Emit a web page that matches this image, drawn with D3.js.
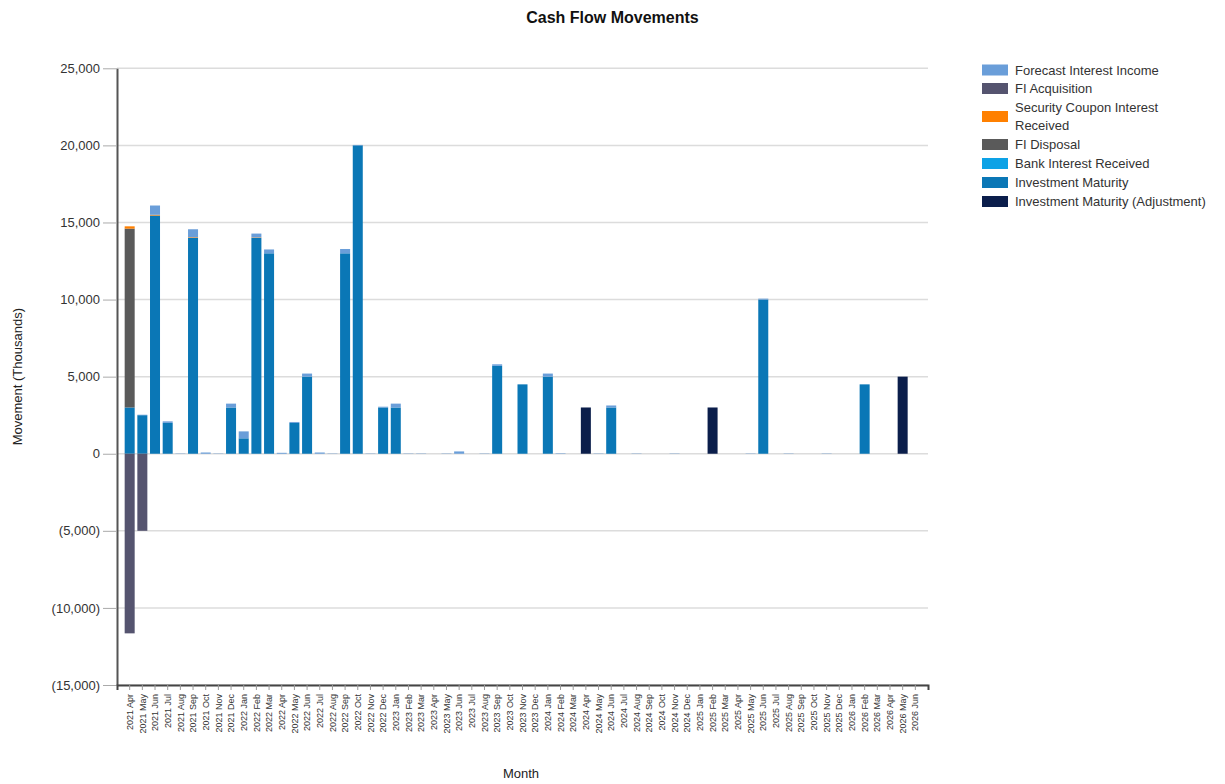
<!DOCTYPE html>
<html>
<head>
<meta charset="utf-8">
<script src="https://cdn.jsdelivr.net/npm/d3@7"></script>
<style>
  body { margin: 0; background: #fff; }
  svg { display: block; font-family: "Liberation Sans", Arial, sans-serif; }
</style>
</head>
<body>
<svg id="chart" width="1225" height="784"></svg>
<script>
const months = [
  "2021 Apr","2021 May","2021 Jun","2021 Jul","2021 Aug","2021 Sep","2021 Oct","2021 Nov","2021 Dec",
  "2022 Jan","2022 Feb","2022 Mar","2022 Apr","2022 May","2022 Jun","2022 Jul","2022 Aug","2022 Sep","2022 Oct","2022 Nov","2022 Dec",
  "2023 Jan","2023 Feb","2023 Mar","2023 Apr","2023 May","2023 Jun","2023 Jul","2023 Aug","2023 Sep","2023 Oct","2023 Nov","2023 Dec",
  "2024 Jan","2024 Feb","2024 Mar","2024 Apr","2024 May","2024 Jun","2024 Jul","2024 Aug","2024 Sep","2024 Oct","2024 Nov","2024 Dec",
  "2025 Jan","2025 Feb","2025 Mar","2025 Apr","2025 May","2025 Jun","2025 Jul","2025 Aug","2025 Sep","2025 Oct","2025 Nov","2025 Dec",
  "2026 Jan","2026 Feb","2026 Mar","2026 Apr","2026 May","2026 Jun"
];

// values in thousands, one per month
const forecastInterestIncome = [
  0,30,600,100,20,520,80,20,250,
  450,250,250,60,60,200,80,20,280,30,20,50,
  250,20,20,0,20,150,0,20,100,0,0,0,
  200,30,0,0,20,130,0,20,0,0,20,0,
  0,0,0,0,20,60,0,20,0,0,20,0,
  0,0,0,0,0,0
];
const fiAcquisition = [
  -11650,-5000,0,0,0,0,0,0,0,
  0,0,0,0,0,0,0,0,0,0,0,0,
  0,0,0,0,0,0,0,0,0,0,0,0,
  0,0,0,0,0,0,0,0,0,0,0,0,
  0,0,0,0,0,0,0,0,0,0,0,0,
  0,0,0,0,0,0
];
const securityCouponInterest = [
  150,0,50,0,0,40,0,0,0,
  0,30,0,0,0,0,0,0,0,0,0,0,
  0,0,0,0,0,0,0,0,0,0,0,0,
  0,0,0,0,0,0,0,0,0,0,0,0,
  0,0,0,0,0,0,0,0,0,0,0,0,
  0,0,0,0,0,0
];
const fiDisposal = [
  11600,0,0,0,0,0,0,0,0,
  0,0,0,0,0,0,0,0,0,0,0,0,
  0,0,0,0,0,0,0,0,0,0,0,0,
  0,0,0,0,0,0,0,0,0,0,0,0,
  0,0,0,0,0,0,0,0,0,0,0,0,
  0,0,0,0,0,0
];
const bankInterestReceived = [
  0,0,0,0,0,0,0,0,0,
  0,0,0,0,0,0,0,0,0,0,0,0,
  0,0,0,0,0,0,0,0,0,0,0,0,
  0,0,0,0,0,0,0,0,0,0,0,0,
  0,0,0,0,0,0,0,0,0,0,0,0,
  0,0,0,0,0,0
];
const investmentMaturity = [
  3000,2500,15450,2000,0,14000,0,0,3000,
  1000,14000,13000,0,2000,5000,0,0,13000,20000,0,3000,
  3000,0,0,0,0,0,0,0,5700,0,4500,0,
  5000,0,0,0,0,3000,0,0,0,0,0,0,
  0,0,0,0,0,10000,0,0,0,0,0,0,
  0,4500,0,0,0,0
];
const investmentMaturityAdj = [
  0,0,0,0,0,0,0,0,0,
  0,0,0,0,0,0,0,0,0,0,0,0,
  0,0,0,0,0,0,0,0,0,0,0,0,
  0,0,0,3000,0,0,0,0,0,0,0,0,
  0,3000,0,0,0,0,0,0,0,0,0,0,
  0,0,0,0,5000,0
];
const yTicks = [-15000,-10000,-5000,0,5000,10000,15000,20000,25000];

// legend order (top to bottom)
const seriesNames = [
  "Forecast Interest Income","FI Acquisition","Security Coupon Interest Received",
  "FI Disposal","Bank Interest Received","Investment Maturity","Investment Maturity (Adjustment)"
];
const seriesColors = ["#6a9ed9","#55546f","#ff8000","#5a5a5a","#0da2e6","#0a77b6","#0b1e4b"];
const seriesValues = [forecastInterestIncome, fiAcquisition, securityCouponInterest,
  fiDisposal, bankInterestReceived, investmentMaturity, investmentMaturityAdj];

const rows = months.map((m, i) => {
  const r = { month: m };
  seriesNames.forEach((s, k) => r[s] = seriesValues[k][i]);
  return r;
});
const stackKeys = seriesNames.slice().reverse(); // bottom to top
const color = d3.scaleOrdinal().domain(seriesNames).range(seriesColors);

const svg = d3.select("#chart");
const L = 117, R = 928, T = 68.3, B = 685;

const x = d3.scaleBand().domain(months).range([L, R]).paddingInner(0.21).paddingOuter(0.605);
const y = d3.scaleLinear().domain([-15000, 25000]).range([B, T]);

// gridlines
svg.append("g").selectAll("line").data(yTicks).join("line")
  .attr("x1", L).attr("x2", R)
  .attr("y1", d => y(d)).attr("y2", d => y(d))
  .attr("stroke", "#dcdcdc").attr("stroke-width", 1.5);

// bars
const stacked = d3.stack().keys(stackKeys).offset(d3.stackOffsetDiverging)(rows);
svg.append("g").selectAll("g").data(stacked).join("g")
  .attr("fill", d => color(d.key))
  .selectAll("rect").data(d => d).join("rect")
  .attr("x", d => x(d.data.month))
  .attr("width", x.bandwidth())
  .attr("y", d => y(Math.max(d[0], d[1])))
  .attr("height", d => Math.abs(y(d[0]) - y(d[1])));

const fmt = d3.format(",");
const yFmt = d => d < 0 ? "(" + fmt(-d) + ")" : fmt(d);

// y axis
const yAxis = svg.append("g").attr("transform", `translate(${L},0)`)
  .call(d3.axisLeft(y).tickValues(yTicks).tickFormat(yFmt).tickSize(14).tickSizeOuter(0).tickPadding(3));
yAxis.select(".domain").attr("stroke", "#555").attr("stroke-width", 2);
yAxis.selectAll(".tick line").attr("stroke", "#aaa");
yAxis.selectAll(".tick text").attr("font-size", 13).attr("fill", "#333")
  .attr("font-family", "Liberation Sans, Arial, sans-serif");

// x axis
const xAxis = svg.append("g").attr("transform", `translate(0,${B})`)
  .call(d3.axisBottom(x).tickSize(5).tickSizeOuter(5));
xAxis.select(".domain").attr("stroke", "#444").attr("stroke-width", 2);
xAxis.selectAll(".tick line").attr("stroke", "#999");
xAxis.selectAll(".tick text")
  .attr("font-size", 9).attr("fill", "#333")
  .attr("font-family", "Liberation Sans, Arial, sans-serif")
  .attr("text-anchor", "end")
  .attr("transform", "rotate(-90)")
  .attr("x", -9).attr("y", 0).attr("dy", "0.35em");

// title
svg.append("text").attr("x", 612.5).attr("y", 23).attr("text-anchor", "middle")
  .attr("font-size", 16).attr("font-weight", "bold").attr("fill", "#111")
  .text("Cash Flow Movements");

// axis titles
svg.append("text").attr("transform", `translate(22,${(T + B) / 2}) rotate(-90)`)
  .attr("text-anchor", "middle").attr("font-size", 13).attr("fill", "#222")
  .text("Movement (Thousands)");
svg.append("text").attr("x", 521).attr("y", 778).attr("text-anchor", "middle")
  .attr("font-size", 13).attr("fill", "#222").text("Month");

// legend
const legendRows = [
  { name: seriesNames[0], lines: ["Forecast Interest Income"], y: 70 },
  { name: seriesNames[1], lines: ["FI Acquisition"], y: 88.5 },
  { name: seriesNames[2], lines: ["Security Coupon Interest", "Received"], y: 116.5 },
  { name: seriesNames[3], lines: ["FI Disposal"], y: 144.5 },
  { name: seriesNames[4], lines: ["Bank Interest Received"], y: 163.5 },
  { name: seriesNames[5], lines: ["Investment Maturity"], y: 182.5 },
  { name: seriesNames[6], lines: ["Investment Maturity (Adjustment)"], y: 201.5 }
];
const lg = svg.append("g").selectAll("g").data(legendRows).join("g");
lg.append("rect").attr("x", 982).attr("y", d => d.y - 5.5).attr("width", 26).attr("height", 11)
  .attr("fill", d => color(d.name));
lg.each(function(d) {
  const g = d3.select(this);
  const n = d.lines.length;
  d.lines.forEach((t, i) => {
    g.append("text").attr("x", 1015).attr("y", d.y + (i - (n - 1) / 2) * 18.5)
      .attr("dy", "0.35em").attr("font-size", 13).attr("fill", "#333").text(t);
  });
});
</script>
</body>
</html>
